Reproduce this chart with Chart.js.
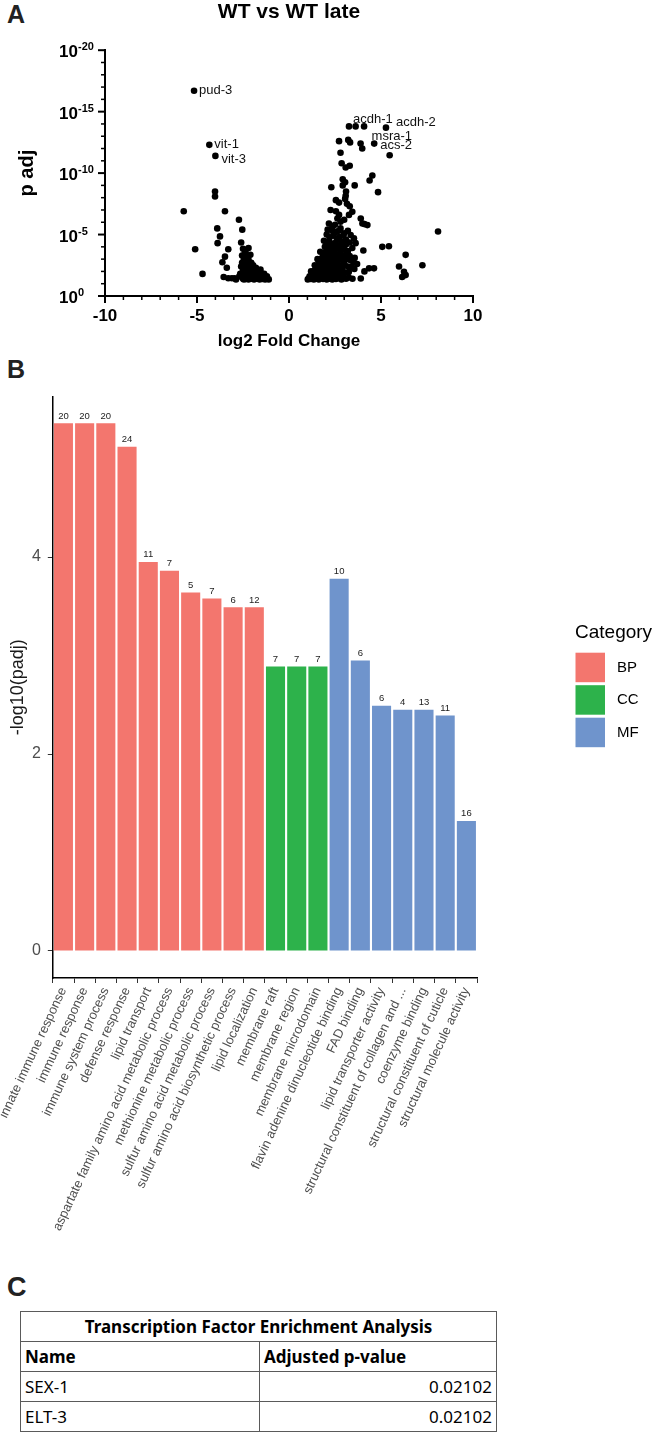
<!DOCTYPE html>
<html><head><meta charset="utf-8">
<script src="https://cdn.jsdelivr.net/npm/chart.js@4.4.1/dist/chart.umd.min.js"></script>
<style>
html,body{margin:0;padding:0;background:#fff;}
body{width:660px;height:1440px;position:relative;overflow:hidden;font-family:"Liberation Sans",Arial,sans-serif;}
.panel{position:absolute;left:7px;font-weight:bold;color:#222;font-family:"Liberation Sans",Arial,sans-serif;}
#cA{position:absolute;left:0;top:0;}
#cB{position:absolute;left:0;top:380px;}
table{position:absolute;left:20px;top:1311px;width:477px;border-collapse:collapse;font-family:"Noto Sans",sans-serif;font-size:17px;color:#000;}
td{border:1.5px solid #5a5a5a;padding:0 4px;height:29px;line-height:29px;white-space:nowrap;}
</style></head>
<body>
<div class="panel" style="top:2px;font-size:25px;line-height:25px;">A</div>
<div class="panel" style="top:357px;font-size:25px;line-height:25px;">B</div>
<div class="panel" style="top:1274px;font-size:27px;line-height:27px;">C</div>
<canvas id="cA" width="660" height="356"></canvas>
<canvas id="cB" width="660" height="870"></canvas>
<table>
<tr><td colspan="2" style="text-align:center;font-weight:bold;">Transcription Factor Enrichment Analysis</td></tr>
<tr><td style="width:230px;font-weight:bold;" id="hName"></td><td style="font-weight:bold;" id="hP"></td></tr>
<tr><td id="n0"></td><td id="p0" style="text-align:right;"></td></tr>
<tr><td id="n1"></td><td id="p1" style="text-align:right;"></td></tr>
</table>
<script>
// ---------- Panel A data (log2 fold change, -log10 p adj) ----------
const volcanoDown = [
[-5.16,16.7],[-4.33,12.3],[-4.0,11.4],[-4.02,8.5],[-4.02,8.1],[-5.72,6.9],[-3.48,6.9],[-2.72,6.2],
[-3.9,5.5],[-2.54,5.4],[-3.75,4.85],[-3.88,4.3],[-2.6,4.35],[-5.1,3.8],[-3.3,3.8],[-3.48,3.2],
[-3.62,2.75],[-3.38,2.3],[-4.7,1.8],[-3.55,1.55],[-3.3,1.45],[-3.1,1.45],[-2.95,1.45],[-2.88,1.35],
[-2.45,2.0],[-2.45,1.35],
[-2.5,3.85],[-2.35,3.75],[-2.2,3.9],[-2.4,3.5],[-2.55,3.3],[-2.3,3.2],[-2.1,3.35],[-2.45,3.0],
[-2.2,2.95],[-2.55,2.7],[-2.35,2.6],[-2.05,2.7],[-2.6,2.4],[-2.4,2.3],[-2.2,2.4],[-1.95,2.5],
[-1.8,2.3],[-2.5,2.1],[-2.3,2.0],[-2.1,2.1],[-1.9,2.05],[-1.7,2.1],[-1.55,2.15],[-2.4,1.8],
[-2.2,1.75],[-2.0,1.85],[-1.85,1.75],[-1.7,1.8],[-1.5,1.85],[-1.35,1.8],[-2.3,1.55],[-2.15,1.6],
[-1.98,1.55],[-1.8,1.6],[-1.62,1.55],[-1.45,1.6],[-1.28,1.55],[-2.5,1.4],[-2.35,1.38],[-2.2,1.35],
[-2.05,1.4],[-1.9,1.35],[-1.75,1.4],[-1.6,1.35],[-1.45,1.38],[-1.3,1.35],[-1.18,1.4],[-1.1,1.35],
[-1.2,1.6],[-1.62,1.95],[-2.7,1.6],[-2.65,1.8]
];
const volcanoUp = [
[3.26,13.8],[3.62,13.8],[4.08,13.8],[5.27,13.7],[2.72,12.6],[3.22,12.7],[3.32,12.5],[3.89,12.4],
[3.98,12.0],[4.63,12.4],[2.8,11.65],[5.47,11.45],[2.86,10.8],[3.3,10.6],[3.08,10.45],[4.53,9.8],
[4.38,9.4],[2.92,9.5],[3.05,9.25],[2.92,9.0],[3.57,9.0],[2.3,8.85],[4.84,8.45],[3.1,8.5],
[3.08,8.15],[3.05,7.9],[2.55,7.8],[2.72,7.6],[3.15,7.5],[3.3,7.3],[2.26,7.0],[2.55,6.9],
[2.72,6.6],[3.44,6.85],[3.26,6.6],[2.63,6.3],[2.8,6.05],[3.0,6.2],[3.9,6.3],[3.99,5.9],
[4.26,5.77],[4.1,5.85],[8.1,5.25],[5.07,4.0],[5.43,4.05],[6.34,3.35],[7.25,2.5],[4.35,2.25],
[4.62,2.25],[5.98,2.4],[6.25,1.97],[6.34,1.7],[6.15,1.55],[3.9,1.43],[4.04,3.7],[3.57,3.1],
[3.7,2.6],[3.55,2.2],[4.1,2.0],
[2.17,5.9],[2.36,5.6],[2.26,5.4],[2.54,5.2],[2.8,5.5],[3.0,5.1],[2.72,4.8],[3.35,4.96],
[3.53,4.7],[3.62,4.3],[3.44,3.9],[2.05,5.0],[2.2,4.75],[2.4,4.9],[2.6,4.55],[2.85,4.4],
[3.1,4.6],[2.95,4.9],[3.2,5.3],[2.5,5.8],[2.7,5.3],[2.1,5.4],[2.4,5.25],[1.9,4.5],
[2.05,4.3],[2.2,4.4],[2.35,4.15],[2.5,4.3],[2.7,4.1],[2.9,4.05],[3.1,4.2],[3.3,4.35],
[1.95,4.0],[2.15,3.95],[2.4,3.85],[2.6,3.9],[2.8,3.7],[3.0,3.8],[3.2,3.65],
[1.7,3.6],[1.85,3.45],[2.0,3.6],[2.12,3.35],[2.25,3.55],[2.38,3.3],[2.5,3.5],[2.65,3.25],
[2.78,3.45],[2.95,3.3],[3.1,3.4],[3.3,3.25],
[1.55,3.0],[1.68,2.85],[1.8,3.1],[1.92,2.9],[2.05,3.05],[2.18,2.8],[2.3,3.0],[2.42,2.85],
[2.55,3.1],[2.68,2.9],[2.82,3.0],[2.98,2.8],[3.15,3.0],[3.35,2.9],[3.5,2.75],
[1.4,2.5],[1.5,2.3],[1.62,2.6],[1.72,2.4],[1.85,2.55],[1.95,2.3],[2.05,2.6],[2.15,2.4],
[2.28,2.55],[2.38,2.3],[2.5,2.6],[2.62,2.35],[2.75,2.5],[2.88,2.3],[3.02,2.55],[3.2,2.4],[3.4,2.35],
[1.2,2.0],[1.3,1.85],[1.4,2.1],[1.5,1.9],[1.6,2.05],[1.7,1.8],[1.8,2.1],[1.9,1.9],
[2.0,2.05],[2.1,1.8],[2.2,2.1],[2.3,1.9],[2.42,2.0],[2.52,1.8],[2.65,2.05],[2.78,1.85],
[2.9,2.1],[3.05,1.9],[3.25,1.95],
[1.02,1.35],[1.08,1.45],[1.12,1.6],[1.18,1.38],[1.25,1.5],[1.3,1.68],[1.35,1.35],[1.42,1.55],
[1.5,1.4],[1.55,1.7],[1.62,1.35],[1.7,1.5],[1.78,1.62],[1.85,1.38],[1.92,1.5],[2.0,1.7],
[2.05,1.35],[2.12,1.55],[2.2,1.4],[2.28,1.65],[2.35,1.35],[2.45,1.5],[2.55,1.38],[2.62,1.62],
[2.72,1.45],[2.85,1.35],[2.95,1.55],[3.1,1.4],[3.25,1.5],[3.45,1.4]
];
// labelled genes: [name, which list, index]
const geneLabels = [['pud-3','down',0],['vit-1','down',1],['vit-3','down',2],
  ['acdh-1','up',2],['acdh-2','up',3],['msra-1','up',7],['acs-2','up',9]];
const xTicksA = [-10,-5,0,5,10];
const yTickExponentsA = [0,5,10,15,20];

// ---------- Panel B data ----------
const goTerms = ['innate immune response','immune response','immune system process','defense response',
 'lipid transport','aspartate family amino acid metabolic process','methionine metabolic process',
 'sulfur amino acid metabolic process','sulfur amino acid biosynthetic process','lipid localization',
 'membrane raft','membrane region','membrane microdomain','flavin adenine dinucleotide binding',
 'FAD binding','lipid transporter activity','structural constituent of collagen and ...',
 'coenzyme binding','structural constituent of cuticle','structural molecule activity'];
const goCategory = ['BP','BP','BP','BP','BP','BP','BP','BP','BP','BP','CC','CC','CC','MF','MF','MF','MF','MF','MF','MF'];
const goNegLog10Padj = [5.36,5.36,5.36,5.12,3.95,3.86,3.64,3.58,3.49,3.49,2.89,2.89,2.89,3.78,2.95,2.49,2.45,2.45,2.39,1.32];
const goGeneCounts = [20,20,20,24,11,7,5,7,6,12,7,7,7,10,6,6,4,13,11,16];
const categoryNames = ['BP','CC','MF'];
const yTicksB = [0,2,4];

// ---------- Panel C data ----------
const tfHeader = ['Name','Adjusted p-value'];
const tfNames = ['SEX-1','ELT-3'];
const tfAdjP = ['0.02102','0.02102'];

// ---------- styles ----------
const FONT = '"Liberation Sans", Arial, sans-serif';
const catColors = {BP:'#F3766E', CC:'#2DB24B', MF:'#6F94CC'};
const labelOffsets = {'pud-3':[5,0],'vit-1':[5,0],'vit-3':[6,4],'acdh-1':[-11,-7],'acdh-2':[10,-5],'msra-1':[11,-7.5],'acs-2':[6,1.5]};

// table
document.getElementById('hName').textContent = tfHeader[0];
document.getElementById('hP').textContent = tfHeader[1];
tfNames.forEach((n,i)=>{document.getElementById('n'+i).textContent=n;document.getElementById('p'+i).textContent=tfAdjP[i];});

// ---------- Chart A ----------
const axisAPlugin = {
  id:'axisA',
  afterDraw(chart){
    const {ctx, chartArea:ca, scales:{x,y}} = chart;
    ctx.save();
    ctx.strokeStyle='#000';
    for(let v=x.min; v<=x.max; v++){
      const px=x.getPixelForValue(v), major = xTicksA.includes(v);
      ctx.lineWidth = major?2:1.5;
      ctx.beginPath(); ctx.moveTo(px, ca.bottom); ctx.lineTo(px, ca.bottom+(major?7:4)); ctx.stroke();
    }
    for(let v=y.min; v<=y.max; v++){
      const py=y.getPixelForValue(v), major = yTickExponentsA.includes(v);
      ctx.lineWidth = major?2:1.5;
      ctx.beginPath(); ctx.moveTo(ca.left, py); ctx.lineTo(ca.left-(major?7:4), py); ctx.stroke();
    }
    ctx.fillStyle='#000';
    ctx.textBaseline='middle';
    yTickExponentsA.forEach(e=>{
      const py=y.getPixelForValue(e);
      ctx.font='bold 17px '+FONT; ctx.textAlign='right';
      ctx.fillText('10', ca.left-27, py+2.5);
      ctx.font='bold 11px '+FONT; ctx.textAlign='left';
      ctx.fillText(e===0?'0':'-'+e, ca.left-27, py-3);
    });
    // gene labels
    ctx.font='13px '+FONT; ctx.textAlign='left'; ctx.fillStyle='#111';
    geneLabels.forEach(([name,list,idx])=>{
      const p = (list==='down'?volcanoDown:volcanoUp)[idx];
      const o = labelOffsets[name];
      ctx.fillText(name, x.getPixelForValue(p[0])+o[0], y.getPixelForValue(p[1])+o[1]);
    });
    ctx.restore();
  }
};
const ptStyle = {pointRadius:3.3, pointBackgroundColor:'#000', pointBorderWidth:0, showLine:false};
new Chart(document.getElementById('cA'), {
  type:'scatter',
  data:{datasets:[
    Object.assign({data:volcanoDown.map(p=>({x:p[0],y:p[1]}))}, ptStyle),
    Object.assign({data:volcanoUp.map(p=>({x:p[0],y:p[1]}))}, ptStyle)
  ]},
  options:{
    responsive:false, animation:false, devicePixelRatio:1, events:[],
    layout:{padding:{left:11,right:187,top:0,bottom:0}},
    plugins:{legend:{display:false}, tooltip:{enabled:false},
      title:{display:true, fullSize:false, text:'WT vs WT late', color:'#000',
        font:{family:FONT,size:21,weight:'bold'}, padding:{top:0,bottom:25}}},
    scales:{
      x:{type:'linear', min:-10, max:10,
        afterBuildTicks:s=>{s.ticks=xTicksA.map(v=>({value:v}));},
        afterFit:s=>{s.height=60;},
        grid:{display:false, drawTicks:false}, border:{display:true,color:'#000',width:2},
        ticks:{color:'#000', font:{family:FONT,size:17,weight:'bold'}, padding:10},
        title:{display:true,text:'log2 Fold Change',color:'#000',font:{family:FONT,size:17,weight:'bold'}}},
      y:{type:'linear', min:0, max:20,
        afterFit:s=>{s.width=94;},
        grid:{display:false, drawTicks:false}, border:{display:true,color:'#000',width:2},
        ticks:{display:false},
        title:{display:true,text:'p adj',color:'#000',font:{family:FONT,size:20,weight:'bold'}}}
    }
  },
  plugins:[axisAPlugin]
});

// ---------- Chart B ----------
const barLabelPlugin = {
  id:'barLabels',
  afterDatasetsDraw(chart){
    const {ctx} = chart;
    const meta = chart.getDatasetMeta(0);
    ctx.save();
    ctx.font='9.5px '+FONT; ctx.fillStyle='#222'; ctx.textAlign='center'; ctx.textBaseline='bottom';
    meta.data.forEach((el,i)=>{ ctx.fillText(String(goGeneCounts[i]), el.x, el.y-2.5); });
    ctx.restore();
  }
};
const legendBPlugin = {
  id:'legendB',
  afterDraw(chart){
    const {ctx} = chart;
    ctx.save();
    ctx.fillStyle='#000'; ctx.textBaseline='middle'; ctx.textAlign='left';
    ctx.font='19px '+FONT;
    ctx.fillText('Category', 575, 253);
    categoryNames.forEach((c,i)=>{
      const top = 272.7 + i*32.5;
      ctx.fillStyle = catColors[c];
      ctx.fillRect(575.5, top, 29.5, 29.5);
      ctx.fillStyle='#000'; ctx.font='15px '+FONT;
      ctx.fillText(c, 617, top+15);
    });
    ctx.restore();
  }
};
new Chart(document.getElementById('cB'), {
  type:'bar',
  data:{labels:goTerms, datasets:[{data:goNegLog10Padj, backgroundColor:goCategory.map(c=>catColors[c]),
    borderWidth:0, barPercentage:0.9, categoryPercentage:1.0}]},
  options:{
    responsive:false, animation:false, devicePixelRatio:1, events:[],
    layout:{padding:{left:0,right:183,top:13,bottom:0}},
    plugins:{legend:{display:false}, tooltip:{enabled:false}},
    scales:{
      x:{type:'category', offset:true,
        afterFit:s=>{s.height=272;},
        grid:{display:true, drawOnChartArea:false, drawTicks:true, tickLength:5, color:'#333', lineWidth:1},
        border:{display:true,color:'#000',width:1.5},
        ticks:{autoSkip:false, minRotation:65, maxRotation:65, color:'#4d4d4d', font:{family:FONT,size:13}, padding:2}},
      y:{type:'linear', min:-0.275, max:5.63,
        afterBuildTicks:s=>{s.ticks=yTicksB.map(v=>({value:v}));},
        afterFit:s=>{s.width=50;},
        grid:{display:true, drawOnChartArea:false, drawTicks:true, tickLength:5, color:'#333', lineWidth:1},
        border:{display:true,color:'#000',width:1.5},
        ticks:{color:'#4d4d4d', font:{family:FONT,size:16}, padding:7},
        title:{display:true,text:'-log10(padj)',color:'#1a1a1a',font:{family:FONT,size:18}}}
    }
  },
  plugins:[barLabelPlugin, legendBPlugin]
});
</script>
</body></html>
